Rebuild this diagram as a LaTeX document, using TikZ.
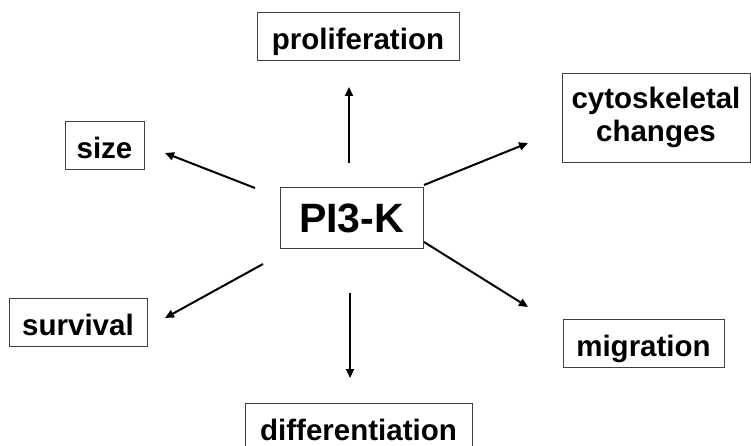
\documentclass[tikz,border=0pt]{standalone}
\usepackage{fontspec}
\setmainfont{Liberation Sans}
\usetikzlibrary{arrows.meta,positioning}
\tikzset{
	>={Triangle[length=9pt,width=8pt]},
	box/.style={draw=black!75, line width=0.8pt, inner sep=0pt,
		font=\bfseries\fontsize{29.5}{33}\selectfont},
	effect/.style={box, text height=37.5pt, text depth=10.5pt},
	signal/.style={->, line width=2pt},
}

\begin{document}
\begin{tikzpicture}[x=1pt, y=-1pt]
	\useasboundingbox (0,0) rectangle (751,446);

	\node[box, minimum width=143pt, text height=46pt, text depth=15pt,
		font=\bfseries\fontsize{41}{45}\selectfont] (pik) at (351.5,217.5) {PI3-K};

	\node[effect, minimum width=202pt] (prolif) at (358,36) {proliferation};
	\node[box, minimum width=188pt, minimum height=89pt, align=center] (cyto) at (656,117.5) {cytoskeletal\\changes};
	\node[effect, minimum width=79pt] (size) at (104.5,145.5) {size};
	\node[effect, minimum width=138pt] (surv) at (78,322) {survival};
	\node[effect, minimum width=161pt] (migr) at (643.5,343) {migration};
	\node[effect, minimum width=227pt] (diff) at (358.5,427) {differentiation};

	\coordinate (prolif in) at (349,87);
	\coordinate (prolif out) at (349,163);
	\coordinate (cyto in) at (528,143);
	\coordinate (cyto out) at (424,185);
	\coordinate (size in) at (165,153);
	\coordinate (size out) at (255,188);
	\coordinate (surv in) at (165,318);
	\coordinate (surv out) at (263,264);
	\coordinate (migr in) at (528,307);
	\coordinate (migr out) at (424,242);
	\coordinate (diff in) at (350,378);
	\coordinate (diff out) at (350,293);

	\foreach \t in {prolif, cyto, size, surv, migr, diff}
		\draw[signal] (\t\space out) -- (\t\space in);
\end{tikzpicture}
\end{document}
